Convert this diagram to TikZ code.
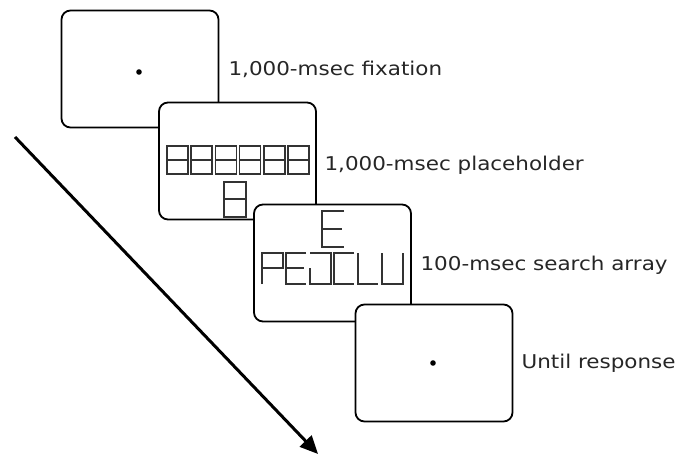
\documentclass[tikz,border=0pt]{standalone}
\usepackage{fontspec}
\setmainfont[FakeStretch=1.13]{DejaVu Sans}
\usetikzlibrary{arrows.meta}

\begin{document}
\begin{tikzpicture}[x=1pt,y=-1pt]
\tikzstyle{every node}=[font=\fontsize{19}{22}\selectfont,text=black!85];
\tikzstyle{screen}=[draw,line width=1.8pt,rounded corners=9pt,fill=white,minimum width=157pt,minimum height=117pt];
\tikzstyle{seg}=[line width=1.5pt,black!80];
\useasboundingbox (0,0) rectangle (679,454);
% time arrow
\coordinate (t0) at (15,137);
\coordinate (t1) at (318,454);
\draw[line width=3pt,-{Triangle[length=18pt,width=16pt]}] (t0) -- (t1);
% screens
\node[screen] (fix) at (140,69) {};
\fill (139,72) circle (2.8);
\node[anchor=west] (lfix) at (225,69) {1,000-msec fixation};
\node[screen] (place) at (237.5,161) {};
\foreach \i in {0,...,5}
  \draw[seg] (167+\i*24.2,146) rectangle ++(21,28) (167+\i*24.2,160) -- ++(21,0);
\draw[seg] (224,182) rectangle (246,217) (224,199) -- (246,199);
\node[anchor=west] (lplace) at (321,165) {1,000-msec placeholder};
\node[screen] (search) at (332.5,263) {};
\draw[seg] (344,211) -- (322,211) -- (322,247) -- (344,247) (322,229) -- (342,229);
% PEJCLU
\draw[seg] (262,284) -- (262,253) -- (283,253) -- (283,268) -- (262,268);
\draw[seg] (306,253) -- (286,253) -- (286,284) -- (306,284) (286,268) -- (304,268);
\draw[seg] (310,253) -- (331,253) -- (331,284) -- (310,284) -- (310,268);
\draw[seg] (354,253) -- (334,253) -- (334,284) -- (354,284);
\draw[seg] (358,253) -- (358,284) -- (378,284);
\draw[seg] (382,253) -- (382,284) -- (403,284) -- (403,253);
\node[anchor=west] (lsearch) at (417,265) {100-msec search array};
\node[screen] (resp) at (434,363) {};
\fill (433,363) circle (2.8);
\node[anchor=west] (lresp) at (518,363) {Until response};
\end{tikzpicture}
\end{document}
